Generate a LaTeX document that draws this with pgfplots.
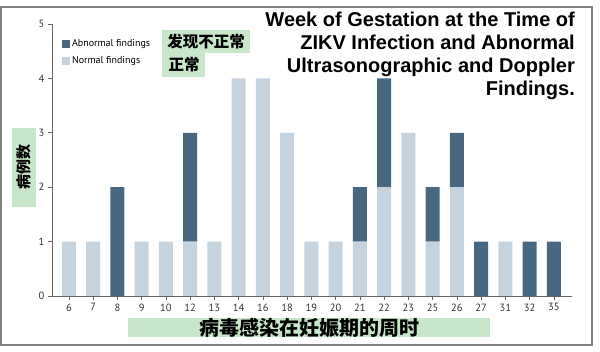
\documentclass[border=0pt]{standalone}
\usepackage{fontspec}
\setmainfont{PT Sans}
\newfontfamily\cjk{Noto Sans CJK SC}
\newfontfamily\titlefont{Liberation Sans}
\usepackage{pgfplots}
\pgfplotsset{compat=1.18}
\definecolor{abn}{RGB}{72,103,128}
\definecolor{nrm}{RGB}{196,211,222}
\definecolor{lgreen}{RGB}{200,230,201}
\definecolor{axgray}{RGB}{100,100,100}
\begin{document}
\begin{tikzpicture}[x=1pt,y=1pt]
\useasboundingbox (0,0) rectangle (600,352);
\draw[black!50, line width=1.5pt] (1,7) rectangle (592,345);
% green label boxes
\fill[lgreen] (162,299) rectangle (250,322);
\fill[lgreen] (162,275) rectangle (205,299);
\node[font=\cjk\bfseries\fontsize{15.5}{18}\selectfont, inner sep=0] at (206,310) {发现不正常};
\node[font=\cjk\bfseries\fontsize{15.5}{18}\selectfont, inner sep=0] at (184,287) {正常};
\fill[lgreen] (12,145) rectangle (36,224);
\node[font=\cjk\bfseries\fontsize{15}{18}\selectfont, inner sep=0, rotate=90] at (24,184.5) {病例数};
\fill[lgreen] (128,15) rectangle (490,34);
\node[font=\cjk\bfseries\fontsize{20}{24}\selectfont, inner sep=0] at (309,24) {病毒感染在妊娠期的周时};
\node[anchor=north east, align=right, inner sep=0, font=\titlefont\bfseries\fontsize{20}{23}\selectfont] at (575,340)
 {Week of Gestation at the Time of\\ZIKV Infection and Abnormal\\Ultrasonographic and Doppler\\Findings.};
\begin{axis}[
  at={(52pt,56pt)}, anchor=south west,
  scale only axis, width=520pt, height=272pt,
  xmin=-0.7, xmax=20.75, ymin=0, ymax=5,
  ybar stacked, bar width=14pt,
  axis x line=bottom, axis y line=left,
  axis line style={-, axgray, line width=0.8pt},
  xtick={0,...,20},
  xticklabels={6,7,8,9,10,12,13,14,16,18,19,20,21,22,23,25,26,27,31,32,35},
  ytick={0,...,5},
  tick align=outside, major tick length=4pt,
  tick style={axgray, line width=0.6pt},
  ticklabel style={font=\fontsize{10.5}{12}\selectfont, text=black!80},
  /pgf/number format/assume math mode=true,
  reverse legend,
  legend image code/.code={\fill[#1] (0pt,-4pt) rectangle (8pt,4pt);},
  legend style={at={(0.019,0.95)}, anchor=north west, draw=none, fill=none,
    font=\fontsize{10}{12}\selectfont, row sep=4pt, inner sep=0pt},
  legend cell align=left,
]
\addplot[fill=nrm, draw=none] coordinates {(0,1)(1,1)(2,0)(3,1)(4,1)(5,1)(6,1)(7,4)(8,4)(9,3)(10,1)(11,1)(12,1)(13,2)(14,3)(15,1)(16,2)(17,0)(18,1)(19,0)(20,0)};
\addplot[fill=abn, draw=none] coordinates {(0,0)(1,0)(2,2)(3,0)(4,0)(5,2)(6,0)(7,0)(8,0)(9,0)(10,0)(11,0)(12,1)(13,2)(14,0)(15,1)(16,1)(17,1)(18,0)(19,1)(20,1)};
\legend{Normal findings, Abnormal findings}
\end{axis}
\end{tikzpicture}
\end{document}
